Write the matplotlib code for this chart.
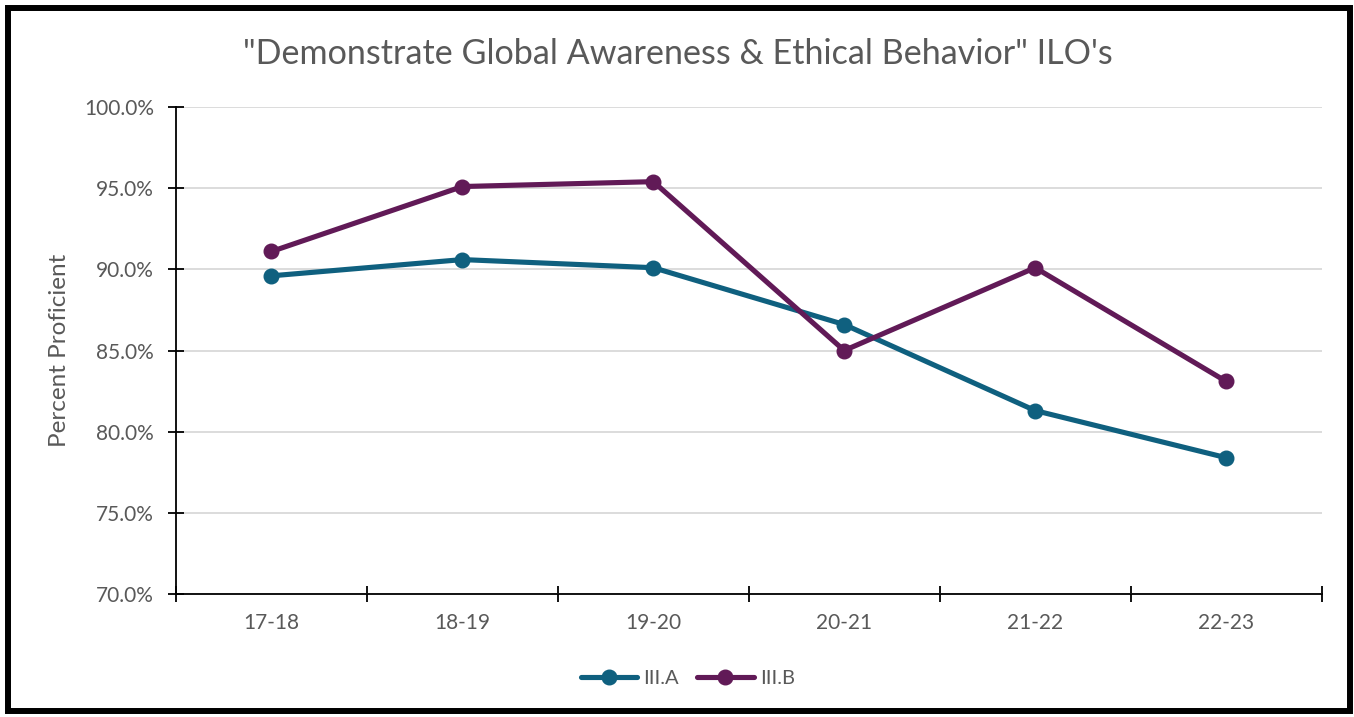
import matplotlib
matplotlib.use("Agg")
import matplotlib.pyplot as plt
from matplotlib.patches import Rectangle
from matplotlib.ticker import FuncFormatter, MultipleLocator
import numpy as np

# Data
years = ["17-18", "18-19", "19-20", "20-21", "21-22", "22-23"]
iii_a = [89.6, 90.6, 90.1, 86.6, 81.3, 78.4]
iii_b = [91.1, 95.1, 95.4, 85.0, 90.1, 83.1]

TEAL = "#0F607F"
PURPLE = "#611A57"
GRAY = "#595959"

plt.rcParams["font.family"] = ["Lato", "DejaVu Sans"]

fig = plt.figure(figsize=(13.54, 7.17), dpi=100)
ax = fig.add_axes([0.130, 0.1715, 0.846, 0.6793])

x = np.arange(len(years))
ax.plot(x, iii_a, color=TEAL, lw=3.7, marker="o", ms=10.5, label="III.A",
        solid_capstyle="round", zorder=3)
ax.plot(x, iii_b, color=PURPLE, lw=3.7, marker="o", ms=10.5, label="III.B",
        solid_capstyle="round", zorder=3)

ax.set_xlim(-0.5, len(years) - 0.5)
ax.set_ylim(70, 100)
ax.yaxis.set_major_locator(MultipleLocator(5))
ax.yaxis.set_major_formatter(FuncFormatter(lambda v, p: f"{v:.1f}%"))
ax.grid(axis="y", color="#d9d9d9", lw=1.3)
ax.set_axisbelow(True)

# category labels centred, tick marks on the bin edges
ax.set_xticks(x)
ax.set_xticklabels(years)
ax.set_xticks(np.arange(-0.5, len(years) + 0.5, 1), minor=True)
ax.tick_params(axis="x", which="major", length=0, pad=14, labelsize=15, labelcolor=GRAY)
ax.tick_params(axis="x", which="minor", direction="inout", length=12, width=1.3)
ax.tick_params(axis="y", direction="inout", length=12, width=1.3, pad=10,
               labelsize=15, labelcolor=GRAY)

for side in ["top", "right"]:
    ax.spines[side].set_visible(False)
for side in ["left", "bottom"]:
    ax.spines[side].set_linewidth(1.3)
    ax.spines[side].set_color("black")

ax.set_ylabel("Percent Proficient", fontsize=17.5, color=GRAY, labelpad=10)

fig.text(0.501, 0.924, "\"Demonstrate Global Awareness & Ethical Behavior\" ILO's",
         ha="center", va="center", fontsize=24.6, color=GRAY)

fig.legend(loc="center", bbox_to_anchor=(0.508, 0.054), ncol=2, frameon=False,
           fontsize=14.5, labelcolor=GRAY, handlelength=2.8, columnspacing=0.9,
           handletextpad=0.3)

# black frame round the whole chart
fig.patches.append(Rectangle((0.0058, 0.0085), 0.9914, 0.981, transform=fig.transFigure,
                             fill=False, lw=4.3, edgecolor="black"))

fig.savefig("out.png", dpi=100)
